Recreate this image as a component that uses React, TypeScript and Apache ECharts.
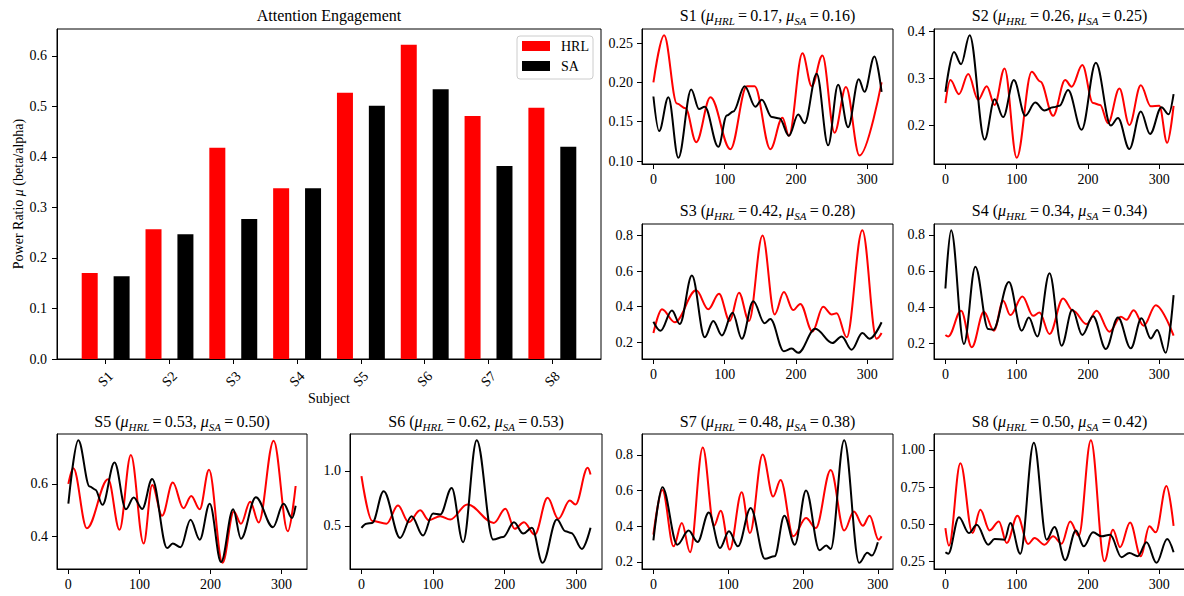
import React, { useEffect, useRef } from "react";
import * as echarts from "echarts";

const FONT = "Liberation Serif, Times New Roman, serif";

// ---- Bar chart data ----
const subjects = ["S1", "S2", "S3", "S4", "S5", "S6", "S7", "S8"];
const hrlMeans = [0.17, 0.257, 0.418, 0.338, 0.527, 0.622, 0.481, 0.497];
const saMeans = [0.164, 0.247, 0.277, 0.338, 0.501, 0.534, 0.382, 0.42];
const meanTicks = [0, 0.1, 0.2, 0.3, 0.4, 0.5, 0.6];
const timeTicks = [0, 100, 200, 300];

// ---- Per-subject time series [time, ratio] ----
const s1Hrl = [[0, 0.2], [15, 0.26], [33, 0.173], [45, 0.167], [60, 0.124], [80, 0.181], [108, 0.115], [131, 0.195], [142, 0.195], [164, 0.115], [181, 0.155], [190, 0.132], [209, 0.237], [222, 0.195], [237, 0.234], [254, 0.136], [270, 0.194], [289, 0.107], [320, 0.2]];
const s1Sa = [[0, 0.182], [8, 0.138], [21, 0.181], [35, 0.104], [53, 0.191], [64, 0.166], [72, 0.169], [91, 0.118], [103, 0.158], [112, 0.163], [128, 0.195], [143, 0.169], [152, 0.178], [166, 0.156], [177, 0.154], [190, 0.132], [203, 0.159], [212, 0.148], [229, 0.211], [245, 0.12], [259, 0.197], [273, 0.143], [288, 0.204], [296, 0.188], [310, 0.233], [320, 0.188]];
const s2Hrl = [[0, 0.247], [7, 0.296], [19, 0.266], [32, 0.309], [46, 0.254], [58, 0.283], [69, 0.243], [83, 0.321], [100, 0.13], [121, 0.314], [133, 0.293], [151, 0.22], [168, 0.296], [177, 0.282], [192, 0.328], [207, 0.247], [217, 0.243], [228, 0.204], [244, 0.278], [258, 0.2], [274, 0.285], [288, 0.24], [300, 0.241], [311, 0.162], [320, 0.241]];
const s2Sa = [[0, 0.271], [12, 0.356], [22, 0.33], [34, 0.392], [55, 0.169], [69, 0.255], [81, 0.217], [96, 0.296], [112, 0.22], [126, 0.248], [139, 0.231], [151, 0.238], [160, 0.241], [172, 0.275], [191, 0.19], [211, 0.333], [232, 0.199], [242, 0.215], [258, 0.149], [274, 0.229], [287, 0.181], [303, 0.238], [313, 0.223], [320, 0.266]];
const s3Hrl = [[0, 0.252], [12, 0.386], [30, 0.313], [60, 0.492], [77, 0.386], [92, 0.473], [107, 0.32], [120, 0.479], [134, 0.32], [153, 0.8], [170, 0.357], [183, 0.482], [196, 0.381], [206, 0.416], [223, 0.261], [238, 0.4], [250, 0.357], [257, 0.363], [271, 0.228], [293, 0.83], [313, 0.22], [320, 0.252]];
const s3Sa = [[0, 0.316], [10, 0.265], [26, 0.379], [37, 0.303], [54, 0.575], [72, 0.228], [84, 0.32], [96, 0.239], [111, 0.366], [124, 0.22], [140, 0.431], [156, 0.307], [164, 0.331], [183, 0.15], [194, 0.165], [203, 0.141], [227, 0.276], [251, 0.196], [264, 0.233], [278, 0.159], [293, 0.252], [303, 0.22], [320, 0.313]];
const s4Hrl = [[0, 0.246], [4, 0.238], [22, 0.38], [37, 0.178], [54, 0.374], [68, 0.27], [81, 0.435], [91, 0.356], [108, 0.459], [123, 0.352], [132, 0.37], [146, 0.251], [165, 0.448], [179, 0.38], [198, 0.306], [212, 0.38], [230, 0.264], [246, 0.347], [254, 0.33], [264, 0.383], [278, 0.297], [295, 0.411], [320, 0.242]];
const s4Sa = [[0, 0.503], [8, 0.826], [26, 0.196], [42, 0.624], [60, 0.279], [67, 0.275], [89, 0.539], [107, 0.27], [117, 0.343], [129, 0.238], [146, 0.587], [163, 0.187], [178, 0.385], [192, 0.246], [207, 0.349], [225, 0.169], [242, 0.343], [260, 0.172], [275, 0.338], [288, 0.227], [297, 0.273], [309, 0.147], [320, 0.466]];
const s5Hrl = [[0, 0.6], [7, 0.66], [26, 0.43], [56, 0.618], [72, 0.424], [88, 0.711], [106, 0.371], [118, 0.596], [132, 0.478], [147, 0.605], [162, 0.507], [173, 0.554], [185, 0.503], [198, 0.654], [217, 0.297], [233, 0.494], [243, 0.447], [256, 0.532], [268, 0.452], [289, 0.766], [309, 0.418], [320, 0.592]];
const s5Sa = [[0, 0.524], [14, 0.768], [30, 0.59], [38, 0.578], [48, 0.52], [65, 0.682], [81, 0.503], [92, 0.548], [104, 0.504], [118, 0.619], [139, 0.354], [147, 0.371], [158, 0.357], [172, 0.462], [185, 0.386], [199, 0.524], [215, 0.3], [232, 0.503], [243, 0.39], [264, 0.549], [288, 0.434], [303, 0.524], [315, 0.469], [320, 0.516]];
const s6Hrl = [[0, 0.952], [15, 0.545], [35, 0.52], [51, 0.685], [66, 0.533], [82, 0.642], [94, 0.552], [110, 0.588], [124, 0.558], [148, 0.694], [185, 0.527], [201, 0.655], [214, 0.473], [227, 0.533], [242, 0.421], [260, 0.755], [275, 0.564], [291, 0.73], [299, 0.694], [316, 1.027], [320, 0.967]];
const s6Sa = [[0, 0.482], [7, 0.52], [15, 0.527], [31, 0.815], [54, 0.391], [70, 0.588], [86, 0.412], [100, 0.612], [110, 0.603], [126, 0.845], [142, 0.352], [161, 1.279], [184, 0.376], [198, 0.4], [213, 0.533], [226, 0.43], [238, 0.482], [253, 0.164], [273, 0.558], [285, 0.452], [293, 0.436], [308, 0.291], [320, 0.482]];
const s7Hrl = [[0, 0.352], [12, 0.603], [27, 0.287], [38, 0.417], [49, 0.254], [66, 0.841], [81, 0.402], [90, 0.486], [102, 0.269], [118, 0.59], [129, 0.361], [146, 0.802], [160, 0.566], [170, 0.659], [187, 0.343], [204, 0.445], [217, 0.389], [237, 0.715], [255, 0.375], [268, 0.482], [280, 0.402], [289, 0.458], [301, 0.324], [305, 0.343]];
const s7Sa = [[0, 0.32], [12, 0.618], [32, 0.296], [47, 0.375], [59, 0.311], [74, 0.477], [89, 0.278], [101, 0.371], [113, 0.287], [130, 0.501], [149, 0.217], [162, 0.231], [175, 0.458], [189, 0.296], [204, 0.6], [222, 0.265], [231, 0.291], [237, 0.272], [255, 0.882], [275, 0.194], [286, 0.25], [292, 0.235], [300, 0.31]];
const s8Hrl = [[0, 0.475], [5, 0.357], [21, 0.909], [38, 0.441], [49, 0.597], [62, 0.459], [75, 0.519], [86, 0.374], [101, 0.557], [116, 0.368], [125, 0.408], [139, 0.363], [151, 0.419], [163, 0.37], [175, 0.519], [187, 0.423], [204, 1.065], [223, 0.252], [235, 0.464], [245, 0.346], [259, 0.512], [274, 0.285], [286, 0.486], [295, 0.446], [310, 0.757], [320, 0.49]];
const s8Sa = [[0, 0.312], [4, 0.303], [19, 0.548], [33, 0.441], [44, 0.497], [60, 0.363], [69, 0.401], [83, 0.397], [91, 0.508], [105, 0.303], [124, 1.047], [142, 0.397], [153, 0.481], [168, 0.259], [183, 0.459], [194, 0.352], [207, 0.446], [219, 0.419], [231, 0.43], [247, 0.279], [258, 0.308], [270, 0.286], [282, 0.379], [296, 0.241], [311, 0.401], [320, 0.312]];

// y tick labels per subject panel
const s1Ticks = [0.1, 0.15, 0.2, 0.25];
const s2Ticks = [0.2, 0.3, 0.4];
const s3Ticks = [0.2, 0.4, 0.6, 0.8];
const s4Ticks = [0.2, 0.4, 0.6, 0.8];
const s5Ticks = [0.4, 0.6];
const s6Ticks = [0.5, 1.0];
const s7Ticks = [0.2, 0.4, 0.6, 0.8];
const s8Ticks = [0.25, 0.5, 0.75, 1.0];
const tickDecimals = [2, 1, 1, 1, 1, 1, 1, 2];

const hrlSeries = [s1Hrl, s2Hrl, s3Hrl, s4Hrl, s5Hrl, s6Hrl, s7Hrl, s8Hrl];
const saSeries = [s1Sa, s2Sa, s3Sa, s4Sa, s5Sa, s6Sa, s7Sa, s8Sa];
const yTickSets = [s1Ticks, s2Ticks, s3Ticks, s4Ticks, s5Ticks, s6Ticks, s7Ticks, s8Ticks];

// ---- Layout (pixels) ----
const MAIN_BOX = [57, 29, 544, 330];
const BOXES = [
  [642, 29, 251, 135],
  [934, 29, 251, 135],
  [642, 224, 251, 135],
  [934, 224, 251, 135],
  [57, 434, 250, 135],
  [350, 434, 252, 135],
  [642, 434, 251, 135],
  [934, 434, 251, 135],
];
const TITLE_Y = [15, 15, 210, 210, 421, 421, 421, 421];

const RED = "#ff0000";
const BLACK = "#000000";

function padExtent(vals: number[]) {
  const mn = Math.min(...vals);
  const mx = Math.max(...vals);
  const p = (mx - mn) * 0.05;
  return [mn - p, mx + p];
}

function buildOption() {
  const grid: any[] = [];
  const xAxis: any[] = [];
  const yAxis: any[] = [];
  const series: any[] = [];
  const graphic: any[] = [];

  const axisLine = { show: true, onZero: false, lineStyle: { color: "#000", width: 1 } };
  const ticks = (vals: number[]) => ({
    show: true,
    inside: false,
    length: 5,
    customValues: vals,
    lineStyle: { color: "#000", width: 1 },
  });

  // ---- main bar chart ----
  grid.push({
    left: MAIN_BOX[0], top: MAIN_BOX[1], width: MAIN_BOX[2], height: MAIN_BOX[3],
    show: true, borderColor: "#000", borderWidth: 1, backgroundColor: "transparent",
    containLabel: false, outerBoundsMode: "none",
  });
  const off = 0.25;
  const bw = 0.25;
  const idx = subjects.map((_, i) => i);
  const [xlo, xhi] = padExtent([-off - bw / 2, subjects.length - 1 + off + bw / 2]);
  xAxis.push({
    type: "value", gridIndex: 0, min: xlo, max: xhi,
    axisLine, axisTick: ticks(idx), splitLine: { show: false },
    axisLabel: {
      customValues: idx,
      formatter: (v: number) => subjects[Math.round(v)] ?? "",
      rotate: 45, align: "center", verticalAlign: "middle", margin: 20,
      fontSize: 14, fontFamily: FONT, color: "#000",
    },
    name: "Subject", nameLocation: "middle", nameGap: 32, nameMoveOverlap: false,
    nameTextStyle: { fontSize: 14, fontFamily: FONT, color: "#000" },
  });
  const ymax = Math.max(...hrlMeans, ...saMeans) * 1.05;
  yAxis.push({
    type: "value", gridIndex: 0, min: 0, max: ymax,
    axisLine, axisTick: ticks(meanTicks), splitLine: { show: false },
    axisLabel: {
      customValues: meanTicks, formatter: (v: number) => v.toFixed(1),
      margin: 10, fontSize: 14, fontFamily: FONT, color: "#000",
    },
    name: "{t|Power Ratio }{m|μ}{t| (beta/alpha)}",
    nameLocation: "middle", nameGap: 32, nameRotate: 90, nameMoveOverlap: false,
    nameTextStyle: {
      fontSize: 14, fontFamily: FONT, color: "#000",
      rich: {
        t: { fontSize: 14, fontFamily: FONT, color: "#000" },
        m: { fontSize: 14, fontFamily: FONT, color: "#000", fontStyle: "italic" },
      },
    },
  });
  series.push({
    name: "HRL", type: "bar", xAxisIndex: 0, yAxisIndex: 0,
    barWidth: 16, barGap: "-100%",
    itemStyle: { color: RED },
    data: hrlMeans.map((v, i) => [i - off, v]),
  });
  series.push({
    name: "SA", type: "bar", xAxisIndex: 0, yAxisIndex: 0,
    barWidth: 16, barGap: "-100%",
    itemStyle: { color: BLACK },
    data: saMeans.map((v, i) => [i + off, v]),
  });
  graphic.push({
    type: "text",
    style: {
      text: "Attention Engagement", x: MAIN_BOX[0] + MAIN_BOX[2] / 2, y: 15,
      align: "center", verticalAlign: "middle",
      fontSize: 16, fontFamily: FONT, fill: "#000",
    },
  });

  // ---- subject panels ----
  for (let i = 0; i < 8; i++) {
    const gi = i + 1;
    const [l, t, w, h] = BOXES[i];
    grid.push({
      left: l, top: t, width: w, height: h,
      show: true, borderColor: "#000", borderWidth: 1, backgroundColor: "transparent",
      containLabel: false, outerBoundsMode: "none",
    });
    const hd = hrlSeries[i];
    const sd = saSeries[i];
    const [xmn, xmx] = padExtent([...hd, ...sd].map((p) => p[0]));
    const [ymn, ymx] = padExtent([...hd, ...sd].map((p) => p[1]));
    xAxis.push({
      type: "value", gridIndex: gi, min: xmn, max: xmx,
      axisLine, axisTick: ticks(timeTicks), splitLine: { show: false },
      axisLabel: {
        customValues: timeTicks, formatter: (v: number) => String(Math.round(v)),
        margin: 8, fontSize: 14, fontFamily: FONT, color: "#000",
      },
    });
    const dec = tickDecimals[i];
    yAxis.push({
      type: "value", gridIndex: gi, min: ymn, max: ymx,
      axisLine, axisTick: ticks(yTickSets[i]), splitLine: { show: false },
      axisLabel: {
        customValues: yTickSets[i], formatter: (v: number) => v.toFixed(dec),
        margin: 9, fontSize: 14, fontFamily: FONT, color: "#000",
      },
    });
    series.push({
      name: subjects[i] + " HRL", type: "line", xAxisIndex: gi, yAxisIndex: gi,
      data: hd, smooth: 0.36, smoothMonotone: "x", symbol: "none", showSymbol: false,
      lineStyle: { color: RED, width: 2 }, itemStyle: { color: RED }, z: 2, silent: true,
    });
    series.push({
      name: subjects[i] + " SA", type: "line", xAxisIndex: gi, yAxisIndex: gi,
      data: sd, smooth: 0.36, smoothMonotone: "x", symbol: "none", showSymbol: false,
      lineStyle: { color: BLACK, width: 2 }, itemStyle: { color: BLACK }, z: 3, silent: true,
    });
    const th = "\u2009=\u2009";
    graphic.push({
      type: "text",
      style: {
        text:
          `{n|${subjects[i]} (}{m|μ}{s|HRL}{n|${th}${hrlMeans[i].toFixed(2)}, }` +
          `{m|μ}{s|SA}{n|${th}${saMeans[i].toFixed(2)})}`,
        x: l + w / 2, y: TITLE_Y[i],
        align: "center", verticalAlign: "middle",
        fontSize: 16, fontFamily: FONT, fill: "#000",
        rich: {
          n: { fontSize: 16, fontFamily: FONT, fill: "#000", lineHeight: 22 },
          m: { fontSize: 16, fontFamily: FONT, fill: "#000", fontStyle: "italic", lineHeight: 22 },
          s: { fontSize: 11, fontFamily: FONT, fill: "#000", fontStyle: "italic", lineHeight: 11, verticalAlign: "bottom" },
        },
      },
    });
  }

  return {
    animation: false,
    backgroundColor: "#ffffff",
    grid, xAxis, yAxis, series, graphic,
    legend: {
      orient: "vertical", left: 517, top: 36,
      padding: [3, 4, 6, 5], itemWidth: 28, itemHeight: 10, itemGap: 6,
      borderColor: "#cccccc", borderWidth: 1, borderRadius: 3,
      backgroundColor: "rgba(255,255,255,0.8)",
      textStyle: { fontSize: 14, fontFamily: FONT, color: "#000", lineHeight: 14, padding: [0, 0, 0, 6] },
      data: [{ name: "HRL", icon: "rect" }, { name: "SA", icon: "rect" }],
      selectedMode: false,
    },
    tooltip: { show: false },
  };
}

export default function App() {
  const ref = useRef<HTMLDivElement>(null);
  useEffect(() => {
    document.body.style.margin = "0";
    if (!ref.current) return;
    const chart = echarts.init(ref.current, undefined, { renderer: "svg" });
    chart.setOption(buildOption() as any);
    return () => chart.dispose();
  }, []);
  return (
    <div style={{ position: "absolute", left: 0, top: 0, width: 1184, height: 596, overflow: "hidden", background: "#fff" }}>
      <div ref={ref} style={{ width: 1184, height: 596 }} />
    </div>
  );
}
